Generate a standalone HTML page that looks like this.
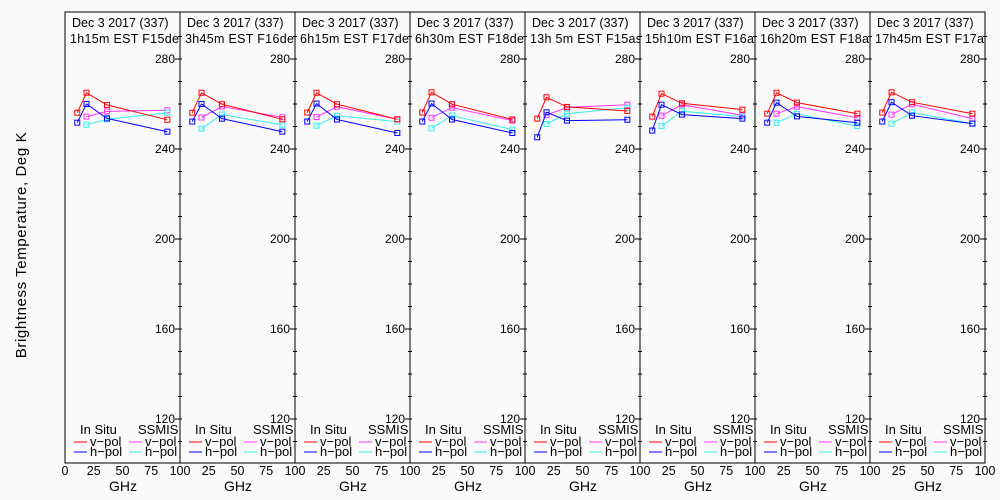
<!DOCTYPE html>
<html><head><meta charset="utf-8"><style>
body{margin:0;background:#fafafa;}
svg{display:block;font-family:"Liberation Sans",sans-serif;}
</style></head><body>
<svg id="chart" width="1000" height="500" viewBox="0 0 1000 500"></svg>
<script>
const freqs = [10.65, 18.7, 36.5, 89];
const freqsS = [18.7, 36.5, 89];
const titles1 = ["Dec 3 2017 (337)","Dec 3 2017 (337)","Dec 3 2017 (337)","Dec 3 2017 (337)","Dec 3 2017 (337)","Dec 3 2017 (337)","Dec 3 2017 (337)","Dec 3 2017 (337)"];
const titles2 = ["1h15m EST F15des","3h45m EST F16des","6h15m EST F17des","6h30m EST F18des","13h 5m EST F15asc","15h10m EST F16asc","16h20m EST F18asc","17h45m EST F17asc"];
const inSituV = [[256.1,265.0,259.6,253.0],[256.1,265.0,259.9,253.2],[256.2,265.0,259.9,253.2],[256.2,265.2,259.9,253.1],[253.5,263.0,258.7,256.9],[254.4,264.6,260.3,257.5],[255.7,265.0,260.6,255.7],[256.2,265.2,260.8,255.7]];
const inSituH = [[251.7,260.0,253.6,247.7],[252.2,260.0,253.5,247.7],[252.2,260.2,253.1,247.1],[252.2,260.2,253.1,247.1],[245.2,256.3,252.6,253.0],[248.2,259.7,255.3,253.5],[251.7,260.6,254.5,251.7],[252.2,260.8,254.8,251.3]];
const ssmisV = [[254.4,256.7,257.2],[254.0,258.9,254.1],[254.2,258.8,253.2],[253.9,258.4,252.6],[255.1,258.5,259.7],[254.8,259.7,255.0],[255.7,258.8,253.8],[255.3,259.9,253.5]];
const ssmisH = [[250.8,253.2,256.1],[249.0,255.3,250.8],[250.4,254.8,252.2],[249.2,254.8,248.6],[251.1,255.7,258.4],[250.2,256.8,254.4],[251.7,255.6,250.2],[251.3,256.2,251.3]];
const yTicks = [120,160,200,240,280];
const xTicks = [0,25,50,75,100];

const NS="http://www.w3.org/2000/svg";
const svg=document.getElementById('chart');
function el(tag,attrs,parent){const e=document.createElementNS(NS,tag);for(const k in attrs)e.setAttribute(k,attrs[k]);(parent||svg).appendChild(e);return e;}
const P0=65,PW=115,YT=14,YB=464;
function yS(v){return YB-(v-100)*(YB-YT)/200;}
function xS(p,f){return P0+p*PW+f*PW/100;}

const yt=el('text',{x:26,y:245,'font-size':15,'text-anchor':'middle','letter-spacing':0.6,transform:'rotate(-90 26 245)',fill:'#000'});


yt.textContent='Brightness Temperature, Deg K';

const colors={iv:'#ff0000',ih:'#0000ff',sv:'#ff33ff',sh:'#33eeee'};
for(let p=0;p<8;p++){
  const g=el('g',{});
  
  
  const L=P0+p*PW,R=L+PW;
  const cp=el('clipPath',{id:'c'+p},g);el('rect',{x:L,y:0,width:PW,height:500},cp);
  const fr=el('rect',{x:L,y:12,width:PW,height:YB-12-1,fill:'none',stroke:'#000','stroke-width':1},g);
  
  
  const tg=el('g',{'clip-path':'url(#c'+p+')'},g);
  const t1=el('text',{x:L+7,y:27,'font-size':12.5,fill:'#000'},tg);
  
  
  t1.textContent=titles1[p];
  const t2=el('text',{x:L+5,y:43,'font-size':12.5,fill:'#000','letter-spacing':0.3},tg);
  
  
  t2.textContent=titles2[p];
  for(let v=110;v<=290;v+=10){
    const y=yS(v);const major=yTicks.includes(v);
    el('line',{x1:major?R-5:R-2,x2:R+2,y1:y,y2:y,stroke:'#000'},g);
    if(major){const t=el('text',{x:R-5,y:y+4,'font-size':12,'text-anchor':'end',fill:'#000'},g);
      
      
      t.textContent=v;}
  }
  for(const xv of xTicks){
    if(p>0&&xv===0)continue;
    const t=el('text',{x:xS(p,xv),y:475,'font-size':12.5,'text-anchor':'middle',fill:'#000'},g);
    
    
    t.textContent=xv;
  }
  const xl=el('text',{x:L+58,y:491,'font-size':14,'text-anchor':'middle',fill:'#000'},g);
  
  
  xl.textContent='GHz';
  const series=[[freqsS,ssmisV[p],colors.sv,'ssmis-v-pol'],[freqsS,ssmisH[p],colors.sh,'ssmis-h-pol'],[freqs,inSituV[p],colors.iv,'insitu-v-pol'],[freqs,inSituH[p],colors.ih,'insitu-h-pol']];
  for(const [fx,vals,c,nm] of series){
    const pts=vals.map((v,i)=>xS(p,fx[i]).toFixed(1)+','+yS(v).toFixed(1)).join(' ');
    const pl=el('polyline',{points:pts,fill:'none',stroke:c,'stroke-width':1},g);
    
    
    vals.forEach((v,i)=>{
      const m=el('rect',{x:xS(p,fx[i])-2.5,y:yS(v)-2.5,width:5,height:5,fill:'none',stroke:c,'stroke-width':1},g);
      
      
    });
  }
  const lg=el('g',{'font-size':13,fill:'#000'},g);
  
  
  const h1=el('text',{x:L+15,y:434},lg);h1.textContent='In Situ';
  const h2=el('text',{x:L+73,y:434},lg);h2.textContent='SSMIS';
  const rows=[['v-pol',colors.iv,colors.sv,446],['h-pol',colors.ih,colors.sh,456]];
  for(const [lab,c1,c2,y] of rows){
    const a=el('line',{x1:L+9,x2:L+22,y1:y-4,y2:y-4,stroke:c1},lg);
    
    
    const ta=el('text',{x:L+25,y:y},lg);ta.textContent='v-pol'===lab?'v\u2212pol':'h\u2212pol';
    const b=el('line',{x1:L+64,x2:L+77,y1:y-4,y2:y-4,stroke:c2},lg);
    
    
    const tb=el('text',{x:L+80,y:y},lg);tb.textContent=ta.textContent;
  }
}
</script>
</body></html>
